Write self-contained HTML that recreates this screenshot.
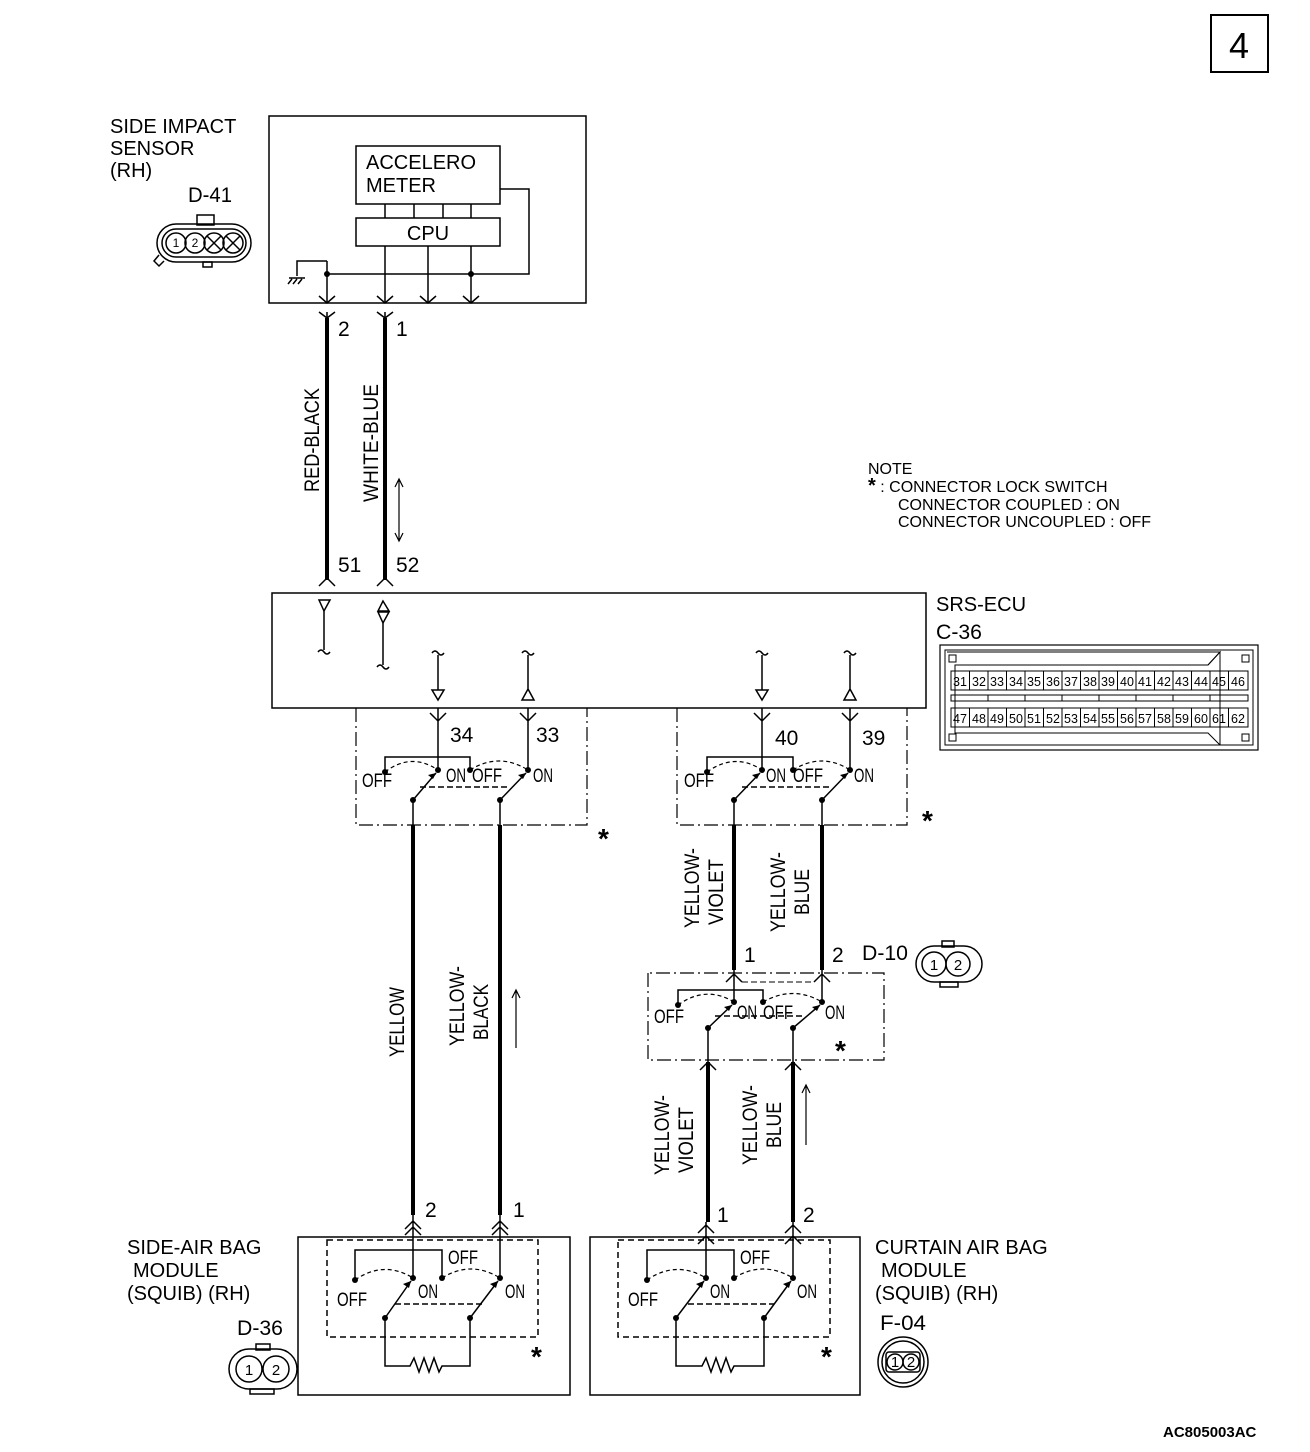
<!DOCTYPE html>
<html><head><meta charset="utf-8"><style>
html,body{margin:0;padding:0;background:#fff}
svg{display:block}
text{font-family:"Liberation Sans",sans-serif;fill:#000}
.n{font-family:"Liberation Sans Narrow","Liberation Sans",sans-serif}
</style></head><body>
<svg width="1310" height="1452" viewBox="0 0 1310 1452" xmlns="http://www.w3.org/2000/svg">
<g fill="none" stroke="#000" stroke-width="1.5">
<rect x="1211" y="15" width="57" height="57" stroke-width="2"/>
<rect x="269" y="116" width="317" height="187"/>
<rect x="356" y="146" width="144" height="58"/>
<rect x="356" y="218" width="144" height="28"/>
<path d="M385 204V218M414 204V218M443 204V218M471 204V218"/>
<path d="M385 246V303M428 246V303M471 246V303"/>
<path d="M327 274H529V189H500"/>
<path d="M327 261V303M327 261H297V276"/>
<path d="M289 278H305M288 284L292 279M293 284L297 279M298 284L302 279"/>
<path d="M319 296L327 303L335 296M377 296L385 303L393 296M420 296L428 303L436 296M463 296L471 303L479 296"/>
<path d="M319 312L327 318L335 312M377 312L385 318L393 312"/>
<line x1="327" y1="312" x2="327" y2="318"/><line x1="385" y1="312" x2="385" y2="318"/>
<!-- D-41 connector -->
<rect x="197" y="215" width="17" height="10"/>
<rect x="157" y="224" width="94" height="38" rx="19"/>
<rect x="162" y="229" width="84" height="28" rx="14"/>
<circle cx="176" cy="243" r="10"/><circle cx="195" cy="243" r="10"/><circle cx="214" cy="243" r="10"/><circle cx="233" cy="243" r="10"/>
<path d="M207 236l14 14M221 236l-14 14M226 236l14 14M240 236l-14 14"/>
<path d="M159 255l-5 6 5 5 5-5"/>
<rect x="203" y="262" width="9" height="5"/>
<g stroke-width="4"><line x1="327" y1="318" x2="327" y2="580"/><line x1="385" y1="318" x2="385" y2="580"/></g>
<path d="M319 586L327 578L335 586M377 586L385 578L393 586"/>
<path d="M399 480V540M395 487L399 479L403 487M395 533L399 541L403 533" stroke-width="1.2"/>
<rect x="272" y="593" width="654" height="115"/>
<path d="M319 600H330L324 611Z"/>
<path d="M383 601L378 611H389Z M378 612H389L383 623Z"/>
<path d="M324 611V650M318 652q3-4 6 0t6 0"/>
<path d="M383 623V665M377 667q3-4 6 0t6 0"/>
<path d="M438 655V690M432 653q3-4 6 0t6 0M432 690H444L438 700Z"/>
<path d="M528 655V690M522 653q3-4 6 0t6 0M528 689L522 700H534Z"/>
<path d="M762 655V690M756 653q3-4 6 0t6 0M756 690H768L762 700Z"/>
<path d="M850 655V690M844 653q3-4 6 0t6 0M850 689L844 700H856Z"/>
<rect x="940" y="645" width="318" height="105" stroke-width="1.2"/>
<path d="M947 652H1220L1208 665H955V720" stroke-width="1"/>
<rect x="945" y="650" width="308" height="95" stroke-width="1"/>
<path d="M955 690V733H1208L1220 745M1208 665L1220 652V745" stroke-width="1"/>
<rect x="949" y="655" width="7" height="7" stroke-width="1"/><rect x="1242" y="655" width="7" height="7" stroke-width="1"/>
<rect x="949" y="734" width="7" height="7" stroke-width="1"/><rect x="1242" y="734" width="7" height="7" stroke-width="1"/>
<rect x="951" y="671" width="297" height="19" stroke-width="1"/>
<rect x="951" y="695" width="297" height="6" stroke-width="1"/>
<rect x="951" y="708" width="297" height="19" stroke-width="1"/>
<path stroke-width="1" d="M969.5 671v19M988 671v19M1006.5 671v19M1025 671v19M1043.5 671v19M1062 671v19M1080.5 671v19M1099 671v19M1117.5 671v19M1136 671v19M1154.5 671v19M1173 671v19M1191.5 671v19M1210 671v19M1228.5 671v19
M969.5 708v19M988 708v19M1006.5 708v19M1025 708v19M1043.5 708v19M1062 708v19M1080.5 708v19M1099 708v19M1117.5 708v19M1136 708v19M1154.5 708v19M1173 708v19M1191.5 708v19M1210 708v19M1228.5 708v19
M988 695v6M1025 695v6M1062 695v6M1099 695v6M1136 695v6M1173 695v6M1210 695v6"/>
<path d="M356 708V825H587V708M677 708V825H907V708" stroke-dasharray="14 4 2 4" stroke-width="1.2"/>
<path d="M438 708V770M528 708V770M430 713L438 721L446 713M520 713L528 721L536 713"/>
<path d="M385 772V757H470V770"/>
<path d="M385 772Q411 752 438 770M470 770Q499 752 528 770" stroke-dasharray="4 3" stroke-width="1.2"/>
<path d="M413 800L436 773M500 800L526 773"/>
<path d="M420 787H510" stroke-dasharray="6 3"/>
<path d="M413 800V825M500 800V825"/>
<path d="M762 708V770M850 708V770M754 713L762 721L770 713M842 713L850 721L858 713"/>
<path d="M707 772V757H793V770"/>
<path d="M707 772Q735 752 762 770M793 770Q822 752 850 770" stroke-dasharray="4 3" stroke-width="1.2"/>
<path d="M734 800L760 773M822 800L848 773"/>
<path d="M742 787H832" stroke-dasharray="6 3"/>
<path d="M734 800V825M822 800V825"/>
<g stroke-width="4">
<line x1="413" y1="825" x2="413" y2="1215"/><line x1="500" y1="825" x2="500" y2="1215"/>
<line x1="734" y1="825" x2="734" y2="970"/><line x1="822" y1="825" x2="822" y2="970"/>
<line x1="708" y1="1062" x2="708" y2="1222"/><line x1="793" y1="1062" x2="793" y2="1222"/>
</g>
<path d="M516 990V1048M512 998L516 990L520 998" stroke-width="1.2"/>
<path d="M806 1085V1145M802 1093L806 1085L810 1093" stroke-width="1.2"/>
<path d="M648 973V1060H884V973Z" stroke-dasharray="14 4 2 4" stroke-width="1.2"/>
<path d="M734 970V1002M822 970V1002M726 982L734 974L742 982M814 982L822 974L830 982"/>
<path d="M678 1005V990H763V1002"/>
<path d="M678 1005Q706 985 734 1002M763 1002Q793 985 822 1002" stroke-dasharray="4 3" stroke-width="1.2"/>
<path d="M708 1028L732 1005M793 1028L820 1005"/>
<path d="M715 1016H805" stroke-dasharray="6 3"/>
<path d="M708 1028V1062M793 1028V1062M700 1070L708 1062L716 1070M785 1070L793 1062L801 1070"/>
<path d="M742 982H814" stroke-dasharray="6 3" stroke-width="1"/>
<rect x="942" y="941" width="12" height="6"/>
<rect x="916" y="946" width="66" height="36" rx="18"/>
<circle cx="934" cy="964" r="12"/><circle cx="958" cy="964" r="12"/>
<rect x="940" y="982" width="18" height="5"/>
<rect x="298" y="1237" width="272" height="158"/>
<rect x="590" y="1237" width="270" height="158"/>
<rect x="327" y="1240" width="211" height="97" stroke-dasharray="6 4"/>
<rect x="618" y="1240" width="212" height="97" stroke-dasharray="6 4"/>
<path d="M413 1215V1278M500 1215V1278M405 1229L413 1221L421 1229M405 1235L413 1227L421 1235M492 1229L500 1221L508 1229M492 1235L500 1227L508 1235"/>
<path d="M355 1280V1250H442V1278"/>
<path d="M355 1280Q384 1260 413 1278M442 1278Q471 1260 500 1278" stroke-dasharray="4 3" stroke-width="1.2"/>
<path d="M385 1318L411 1281M470 1318L498 1281"/>
<path d="M395 1304H482" stroke-dasharray="6 3"/>
<path d="M385 1318V1366H410L414 1358L419 1372L424 1358L429 1372L434 1358L439 1372L442 1366H470V1318"/>
<path d="M706 1222V1278M793 1222V1278M698 1233L706 1225L714 1233M698 1244L706 1236L714 1244M785 1233L793 1225L801 1233M785 1244L793 1236L801 1244"/>
<path d="M647 1280V1250H734V1278"/>
<path d="M647 1280Q676 1260 706 1278M734 1278Q763 1260 793 1278" stroke-dasharray="4 3" stroke-width="1.2"/>
<path d="M676 1318L704 1281M764 1318L791 1281"/>
<path d="M688 1304H774" stroke-dasharray="6 3"/>
<path d="M676 1318V1366H702L706 1358L711 1372L716 1358L721 1372L726 1358L731 1372L734 1366H764V1318"/>
<rect x="256" y="1344" width="14" height="6"/>
<rect x="229" y="1349" width="68" height="40" rx="20"/>
<circle cx="249" cy="1369" r="13"/><circle cx="276" cy="1369" r="13"/>
<rect x="250" y="1389" width="24" height="5"/>
<circle cx="903" cy="1362" r="25"/><circle cx="903" cy="1362" r="21"/>
<rect x="886" y="1352" width="34" height="20" rx="3"/>
<circle cx="895" cy="1362" r="8"/><circle cx="911" cy="1362" r="8"/>
</g>
<g fill="#000">
<circle cx="327" cy="274" r="3"/><circle cx="471" cy="274" r="3"/>
<circle cx="385" cy="772" r="3"/><circle cx="438" cy="770" r="3"/><circle cx="470" cy="770" r="3"/><circle cx="528" cy="770" r="3"/><circle cx="413" cy="800" r="3"/><circle cx="500" cy="800" r="3"/>
<circle cx="707" cy="772" r="3"/><circle cx="762" cy="770" r="3"/><circle cx="793" cy="770" r="3"/><circle cx="850" cy="770" r="3"/><circle cx="734" cy="800" r="3"/><circle cx="822" cy="800" r="3"/>
<circle cx="678" cy="1005" r="3"/><circle cx="734" cy="1002" r="3"/><circle cx="763" cy="1002" r="3"/><circle cx="822" cy="1002" r="3"/><circle cx="708" cy="1028" r="3"/><circle cx="793" cy="1028" r="3"/>
<circle cx="355" cy="1280" r="3"/><circle cx="413" cy="1278" r="3"/><circle cx="442" cy="1278" r="3"/><circle cx="500" cy="1278" r="3"/><circle cx="385" cy="1318" r="3"/><circle cx="470" cy="1318" r="3"/>
<circle cx="647" cy="1280" r="3"/><circle cx="706" cy="1278" r="3"/><circle cx="734" cy="1278" r="3"/><circle cx="793" cy="1278" r="3"/><circle cx="676" cy="1318" r="3"/><circle cx="764" cy="1318" r="3"/>
<path d="M436 773l-8 2 5 4zM526 773l-8 2 5 4zM760 773l-8 2 5 4zM848 773l-8 2 5 4zM732 1005l-8 2 5 4zM820 1005l-8 2 5 4zM411 1281l-8 3 6 4zM498 1281l-8 3 6 4zM704 1281l-8 3 6 4zM791 1281l-8 3 6 4z"/>
</g>
<text x="1239" y="58" font-size="36" text-anchor="middle">4</text>
<text x="110" y="133" font-size="20">SIDE IMPACT</text>
<text x="110" y="155" font-size="20">SENSOR</text>
<text x="110" y="177" font-size="20">(RH)</text>
<text x="188" y="202" font-size="21" textLength="44" lengthAdjust="spacingAndGlyphs">D-41</text>
<text x="366" y="169" font-size="20">ACCELERO</text>
<text x="366" y="192" font-size="20">METER</text>
<text x="428" y="240" font-size="20" text-anchor="middle">CPU</text>
<g font-size="12" text-anchor="middle"><text x="176" y="247">1</text><text x="195" y="247">2</text></g>
<g class="n" font-size="21">
<text x="338" y="336">2</text><text x="396" y="336">1</text>
<text x="338" y="572">51</text><text x="396" y="572">52</text>
<text x="450" y="742">34</text><text x="536" y="742">33</text>
<text x="775" y="745">40</text><text x="862" y="745">39</text>
<text x="744" y="962">1</text><text x="832" y="962">2</text>
<text x="862" y="960" textLength="46" lengthAdjust="spacingAndGlyphs">D-10</text>
<text x="425" y="1217">2</text><text x="513" y="1217">1</text>
<text x="717" y="1222">1</text><text x="803" y="1222">2</text>
<text x="237" y="1335" textLength="46" lengthAdjust="spacingAndGlyphs">D-36</text>
<text x="880" y="1330" textLength="46" lengthAdjust="spacingAndGlyphs">F-04</text>
</g>
<g font-size="19">
<text x="362" y="787" textLength="30" lengthAdjust="spacingAndGlyphs">OFF</text><text x="446" y="782" textLength="20" lengthAdjust="spacingAndGlyphs">ON</text><text x="472" y="782" textLength="30" lengthAdjust="spacingAndGlyphs">OFF</text><text x="533" y="782" textLength="20" lengthAdjust="spacingAndGlyphs">ON</text>
<text x="684" y="787" textLength="30" lengthAdjust="spacingAndGlyphs">OFF</text><text x="766" y="782" textLength="20" lengthAdjust="spacingAndGlyphs">ON</text><text x="793" y="782" textLength="30" lengthAdjust="spacingAndGlyphs">OFF</text><text x="854" y="782" textLength="20" lengthAdjust="spacingAndGlyphs">ON</text>
<text x="654" y="1023" textLength="30" lengthAdjust="spacingAndGlyphs">OFF</text><text x="737" y="1019" textLength="20" lengthAdjust="spacingAndGlyphs">ON</text><text x="763" y="1019" textLength="30" lengthAdjust="spacingAndGlyphs">OFF</text><text x="825" y="1019" textLength="20" lengthAdjust="spacingAndGlyphs">ON</text>
<text x="448" y="1264" textLength="30" lengthAdjust="spacingAndGlyphs">OFF</text><text x="337" y="1306" textLength="30" lengthAdjust="spacingAndGlyphs">OFF</text><text x="418" y="1298" textLength="20" lengthAdjust="spacingAndGlyphs">ON</text><text x="505" y="1298" textLength="20" lengthAdjust="spacingAndGlyphs">ON</text>
<text x="740" y="1264" textLength="30" lengthAdjust="spacingAndGlyphs">OFF</text><text x="628" y="1306" textLength="30" lengthAdjust="spacingAndGlyphs">OFF</text><text x="710" y="1298" textLength="20" lengthAdjust="spacingAndGlyphs">ON</text><text x="797" y="1298" textLength="20" lengthAdjust="spacingAndGlyphs">ON</text>
</g>
<g font-size="21" text-anchor="middle">
<text transform="translate(319 440) rotate(-90)" textLength="104" lengthAdjust="spacingAndGlyphs">RED-BLACK</text>
<text transform="translate(378 443) rotate(-90)" textLength="118" lengthAdjust="spacingAndGlyphs">WHITE-BLUE</text>
<text transform="translate(404 1022) rotate(-90)" textLength="70" lengthAdjust="spacingAndGlyphs">YELLOW</text>
<text transform="translate(464 1006) rotate(-90)" textLength="80" lengthAdjust="spacingAndGlyphs">YELLOW-</text>
<text transform="translate(488 1012) rotate(-90)" textLength="56" lengthAdjust="spacingAndGlyphs">BLACK</text>
<text transform="translate(699 888) rotate(-90)" textLength="80" lengthAdjust="spacingAndGlyphs">YELLOW-</text>
<text transform="translate(723 892) rotate(-90)" textLength="66" lengthAdjust="spacingAndGlyphs">VIOLET</text>
<text transform="translate(785 892) rotate(-90)" textLength="80" lengthAdjust="spacingAndGlyphs">YELLOW-</text>
<text transform="translate(809 892) rotate(-90)" textLength="46" lengthAdjust="spacingAndGlyphs">BLUE</text>
<text transform="translate(669 1135) rotate(-90)" textLength="80" lengthAdjust="spacingAndGlyphs">YELLOW-</text>
<text transform="translate(693 1140) rotate(-90)" textLength="66" lengthAdjust="spacingAndGlyphs">VIOLET</text>
<text transform="translate(757 1125) rotate(-90)" textLength="80" lengthAdjust="spacingAndGlyphs">YELLOW-</text>
<text transform="translate(781 1125) rotate(-90)" textLength="46" lengthAdjust="spacingAndGlyphs">BLUE</text>
</g>
<g font-size="28" font-weight="bold"><text x="598" y="848">*</text><text x="922" y="830">*</text><text x="835" y="1060">*</text><text x="531" y="1366">*</text><text x="821" y="1366">*</text></g>
<g font-size="16">
<text x="868" y="474">NOTE</text>
<text x="868" y="492"><tspan font-size="20" font-weight="bold">*</tspan> : CONNECTOR LOCK SWITCH</text>
<text x="898" y="510">CONNECTOR COUPLED : ON</text>
<text x="898" y="527">CONNECTOR UNCOUPLED : OFF</text>
</g>
<text x="936" y="611" font-size="20">SRS-ECU</text>
<text x="936" y="639" font-size="21" textLength="46" lengthAdjust="spacingAndGlyphs">C-36</text>
<g font-size="12.5" text-anchor="middle">
<text x="960" y="686">31</text><text x="979" y="686">32</text><text x="997" y="686">33</text><text x="1016" y="686">34</text><text x="1034" y="686">35</text><text x="1053" y="686">36</text><text x="1071" y="686">37</text><text x="1090" y="686">38</text><text x="1108" y="686">39</text><text x="1127" y="686">40</text><text x="1145" y="686">41</text><text x="1164" y="686">42</text><text x="1182" y="686">43</text><text x="1201" y="686">44</text><text x="1219" y="686">45</text><text x="1238" y="686">46</text>
<text x="960" y="723">47</text><text x="979" y="723">48</text><text x="997" y="723">49</text><text x="1016" y="723">50</text><text x="1034" y="723">51</text><text x="1053" y="723">52</text><text x="1071" y="723">53</text><text x="1090" y="723">54</text><text x="1108" y="723">55</text><text x="1127" y="723">56</text><text x="1145" y="723">57</text><text x="1164" y="723">58</text><text x="1182" y="723">59</text><text x="1201" y="723">60</text><text x="1219" y="723">61</text><text x="1238" y="723">62</text>
</g>
<g font-size="15" text-anchor="middle"><text x="934" y="970">1</text><text x="958" y="970">2</text><text x="249" y="1375">1</text><text x="276" y="1375">2</text><text x="895" y="1367">1</text><text x="911" y="1367">2</text></g>
<text x="127" y="1254" font-size="20">SIDE-AIR BAG</text>
<text x="133" y="1277" font-size="20">MODULE</text>
<text x="127" y="1300" font-size="20">(SQUIB) (RH)</text>
<text x="875" y="1254" font-size="20">CURTAIN AIR BAG</text>
<text x="881" y="1277" font-size="20">MODULE</text>
<text x="875" y="1300" font-size="20">(SQUIB) (RH)</text>
<text x="1163" y="1437" font-size="15" font-weight="bold">AC805003AC</text>
</svg>
</body></html>
